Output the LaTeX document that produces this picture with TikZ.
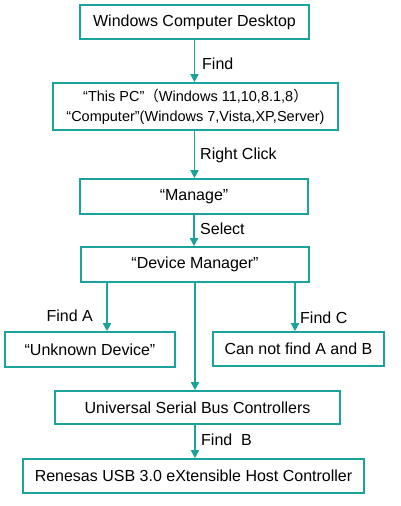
\documentclass[tikz,border=0pt]{standalone}
\usepackage{fontspec}
\setmainfont{Liberation Sans}
\newfontfamily\cjkfont{Noto Sans CJK SC}
\usetikzlibrary{arrows.meta}
\definecolor{flowcolor}{HTML}{1AA39A}

\tikzset{
  stepnode/.style={draw=flowcolor,line width=1.6pt,inner sep=0pt,align=center,
    font=\fontsize{16}{20}\selectfont},
  flowarrow/.style={flowcolor,line width=1.6pt,-{Triangle[length=8pt,width=8pt]}},
  steplabel/.style={inner sep=0pt,font=\fontsize{16}{18}\selectfont}
}

\begin{document}
\begin{tikzpicture}[x=1pt,y=-1pt]
\useasboundingbox (0,0) rectangle (401,506);
%% boxes
\node[stepnode,minimum width=229pt,minimum height=34pt] (desk) at (194.5,22) {Windows Computer Desktop};
\node[stepnode,minimum width=285pt,minimum height=47pt,font=\fontsize{14.5}{20}\selectfont] (pc) at (195.5,106.5)
   {“This PC”{\cjkfont （}Windows 11,10,8.1,8{\cjkfont ）}\\“Computer”(Windows 7,Vista,XP,Server)};
\node[stepnode,minimum width=228pt,minimum height=35pt] (manage) at (194,196.5) {“Manage”};
\node[stepnode,minimum width=228pt,minimum height=35pt] (devmgr) at (195,264.5) {“Device Manager”};
\node[stepnode,minimum width=170pt,minimum height=35pt] (unknown) at (90,349.5) {“Unknown Device”};
\node[stepnode,minimum width=171pt,minimum height=34pt] (notfound) at (298.5,349) {Can not find A and B};
\node[stepnode,minimum width=285pt,minimum height=33pt] (usb) at (197.5,407.5) {Universal Serial Bus Controllers};
\node[stepnode,minimum width=341pt,minimum height=34pt] (renesas) at (193.5,476) {Renesas USB 3.0 eXtensible Host Controller};

%% arrows
\draw[flowarrow] (desk.south) -- (desk.south |- pc.north);
\draw[flowarrow] (desk.south |- pc.south) -- (desk.south |- manage.north);
\draw[flowarrow] (manage.south) -- (manage.south |- devmgr.north);
\draw[flowarrow] ([xshift=-88pt]devmgr.south) -- ([xshift=-88pt]devmgr.south |- unknown.north);
\draw[flowarrow] ([xshift=100pt]devmgr.south) -- ([xshift=100pt]devmgr.south |- notfound.north);
\draw[flowarrow] (devmgr.south) -- (devmgr.south |- usb.north);
\draw[flowarrow] (devmgr.south |- usb.south) -- (devmgr.south |- renesas.north);

%% labels
\node[steplabel,anchor=west] (lfind) at (202,64) {Find};
\node[steplabel,anchor=west] (lright) at (200,155) {Right Click};
\node[steplabel,anchor=west] (lselect) at (200,229) {Select};
\node[steplabel,anchor=east] (lfinda) at (93,316) {Find A};
\node[steplabel,anchor=west] (lfindc) at (300,318) {Find C};
\node[steplabel,anchor=west] (lfindb) at (201,440) {Find\ \ B};
\end{tikzpicture}
\end{document}
